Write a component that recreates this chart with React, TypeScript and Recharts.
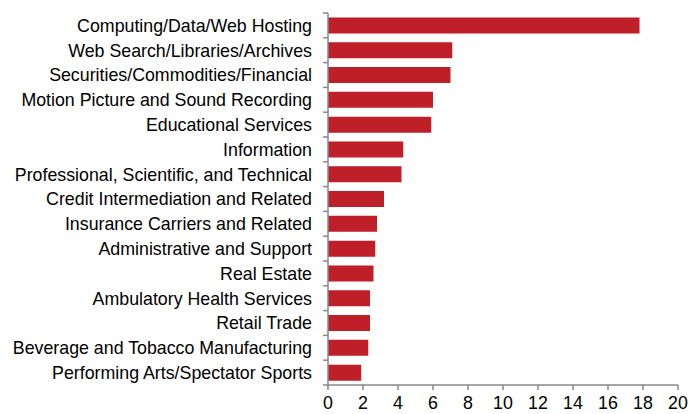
import { BarChart, Bar, XAxis, YAxis } from 'recharts';

const categories = [
  'Computing/Data/Web Hosting',
  'Web Search/Libraries/Archives',
  'Securities/Commodities/Financial',
  'Motion Picture and Sound Recording',
  'Educational Services',
  'Information',
  'Professional, Scientific, and Technical',
  'Credit Intermediation and Related',
  'Insurance Carriers and Related',
  'Administrative and Support',
  'Real Estate',
  'Ambulatory Health Services',
  'Retail Trade',
  'Beverage and Tobacco Manufacturing',
  'Performing Arts/Spectator Sports',
];

const values = [17.8, 7.1, 7.0, 6.0, 5.9, 4.3, 4.2, 3.2, 2.8, 2.7, 2.6, 2.4, 2.4, 2.3, 1.9];

const xTicks = [0, 2, 4, 6, 8, 10, 12, 14, 16, 18, 20];

const data = categories.map((name, i) => ({ name, value: values[i] }));

const AXIS = '#898989';
const FONT = 'Liberation Sans, Arial, sans-serif';
const FONT_SIZE = 17.8;
const TICK_SIZE = 5;
const TICK_MARGIN = 11;

// category labels + Excel-style tick marks on the band edges
function CategoryTick(props: any) {
  const { x, y, payload, index } = props;
  const half = payload?.offset ?? 12.4;
  const axisX = x + TICK_SIZE + TICK_MARGIN;
  return (
    <g>
      {index === 0 && (
        <line x1={axisX - TICK_SIZE} x2={axisX} y1={y - half} y2={y - half} stroke={AXIS} strokeWidth={1.5} />
      )}
      <line x1={axisX - TICK_SIZE} x2={axisX} y1={y + half} y2={y + half} stroke={AXIS} strokeWidth={1.5} />
      <text x={x} y={y} dy="0.36em" textAnchor="end" fill="#000" fontSize={FONT_SIZE} fontFamily={FONT}>
        {payload.value}
      </text>
    </g>
  );
}

export default function App() {
  return (
    <div style={{ position: 'absolute', left: 0, top: 0 }}>
      <BarChart
        width={691}
        height={414}
        data={data}
        layout="vertical"
        margin={{ top: 13, right: 13, bottom: 0, left: 0 }}
        barCategoryGap="18%"
      >
        <XAxis
          type="number"
          domain={[0, 20]}
          ticks={xTicks}
          interval={0}
          height={29}
          stroke={AXIS}
          strokeWidth={1.5}
          tickSize={5}
          tickMargin={6}
          tick={{ fill: '#000', fontSize: FONT_SIZE, fontFamily: FONT }}
        />
        <YAxis
          type="category"
          dataKey="name"
          width={328}
          interval={0}
          stroke={AXIS}
          strokeWidth={1.5}
          tickLine={false}
          tickSize={TICK_SIZE}
          tickMargin={TICK_MARGIN}
          tick={<CategoryTick />}
        />
        <Bar dataKey="value" fill="#BE1F28" isAnimationActive={false} />
      </BarChart>
    </div>
  );
}
